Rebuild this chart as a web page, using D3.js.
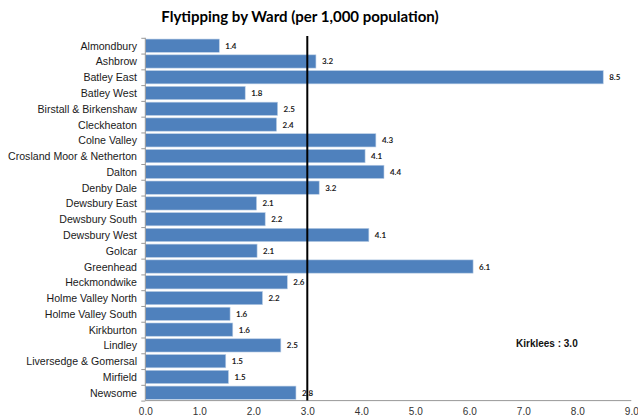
<!DOCTYPE html>
<html><head><meta charset="utf-8">
<script src="https://cdn.jsdelivr.net/npm/d3@7"></script>
<style>body{margin:0;background:#fff;}svg{display:block;}</style>
</head><body>
<script>
const categories = ["Almondbury","Ashbrow","Batley East","Batley West","Birstall & Birkenshaw","Cleckheaton","Colne Valley","Crosland Moor & Netherton","Dalton","Denby Dale","Dewsbury East","Dewsbury South","Dewsbury West","Golcar","Greenhead","Heckmondwike","Holme Valley North","Holme Valley South","Kirkburton","Lindley","Liversedge & Gomersal","Mirfield","Newsome"];
const values = [1.37,3.16,8.48,1.85,2.45,2.43,4.27,4.07,4.42,3.22,2.06,2.22,4.14,2.07,6.07,2.63,2.17,1.57,1.62,2.51,1.49,1.54,2.79];
const valueLabels = ["1.4","3.2","8.5","1.8","2.5","2.4","4.3","4.1","4.4","3.2","2.1","2.2","4.1","2.1","6.1","2.6","2.2","1.6","1.6","2.5","1.5","1.5","2.8"];
const xTicks = [0,1,2,3,4,5,6,7,8,9];
const average = 3.0;
const title = "Flytipping by Ward (per 1,000 population)";
const avgLabel = "Kirklees : 3.0";

(function(){
const W = 638, H = 416;
const svg = d3.select("body").append("svg").attr("width", W).attr("height", H);
const pl = 145.3, pr = 631.3, pt = 37.8, pb = 400.6;
const x = d3.scaleLinear().domain([0, 9]).range([pl, pr]);
const y = d3.scaleBand().domain(categories).range([pt, pb]).paddingInner(0.16).paddingOuter(0.08);
const yb = d3.scaleLinear().domain([0, categories.length]).range([pt, pb]);

svg.append("text").attr("x", 300).attr("y", 22).attr("text-anchor", "middle")
  .attr("font-family", "Lato, 'Open Sans', sans-serif").attr("font-weight", "bold")
  .attr("font-size", 15).attr("fill", "#000").text(title);

svg.selectAll("rect.bar").data(categories).join("rect").attr("class", "bar")
  .attr("x", x(0)).attr("y", d => y(d))
  .attr("width", (d, i) => x(values[i]) - x(0)).attr("height", y.bandwidth())
  .attr("fill", "#4f81bd").attr("stroke", "#b9cde5").attr("stroke-width", 0.6);

svg.selectAll("text.val").data(categories).join("text").attr("class", "val")
  .attr("x", (d, i) => x(values[i]) + 6).attr("y", d => y(d) + y.bandwidth() / 2 + 3)
  .attr("font-family", "Lato, sans-serif").attr("font-weight", "bold")
  .attr("font-size", 8).attr("fill", "#222").text((d, i) => valueLabels[i]);

const yAxis = svg.append("g").attr("transform", `translate(${pl},0)`)
  .call(d3.axisLeft(yb).tickValues(d3.range(0, categories.length + 1)).tickSize(4).tickFormat(""));
yAxis.selectAll("path,line").attr("stroke", "#999");
yAxis.select("path").attr("d", `M0,${pt}V${pb}`);

svg.selectAll("text.cat").data(categories).join("text").attr("class", "cat")
  .attr("x", 137).attr("y", d => y(d) + y.bandwidth() / 2 + 4)
  .attr("text-anchor", "end").attr("font-family", "'Liberation Sans', Arial, sans-serif")
  .attr("font-size", 10.6).attr("fill", "#1a1a1a").text(d => d);

const xAxis = svg.append("g").attr("transform", `translate(0,${pb})`)
  .call(d3.axisBottom(x).tickValues(xTicks).tickSize(0).tickPadding(7).tickFormat(d3.format(".1f")));
xAxis.selectAll("path,line").attr("stroke", "#999");
xAxis.select("path").attr("d", `M${pl},0H${pr}`);
xAxis.selectAll("text").attr("font-family", "'Liberation Sans', Arial, sans-serif")
  .attr("font-size", 10).attr("fill", "#333");

svg.append("line").attr("x1", x(average)).attr("x2", x(average))
  .attr("y1", 36).attr("y2", pb).attr("stroke", "#000").attr("stroke-width", 2);

svg.append("text").attr("x", 516).attr("y", 347)
  .attr("font-family", "'Liberation Sans', Arial, sans-serif").attr("font-weight", "bold")
  .attr("font-size", 10).attr("fill", "#111").text(avgLabel);
})();
</script>
</body></html>
